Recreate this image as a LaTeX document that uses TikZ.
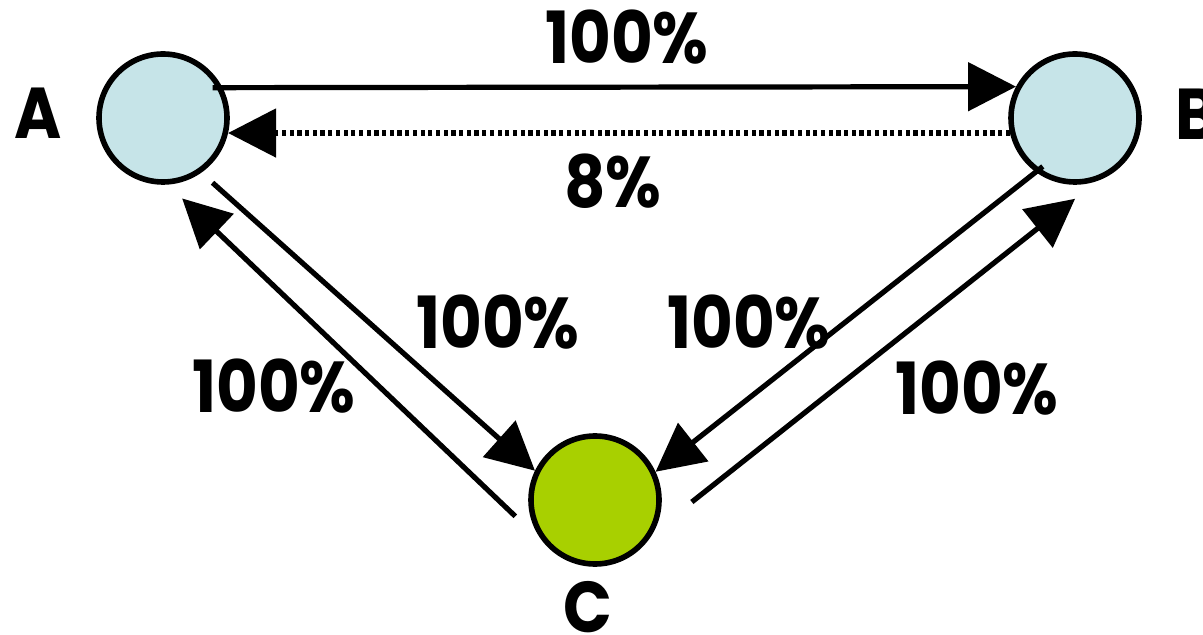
\documentclass[tikz,border=0pt]{standalone}
\usepackage{fontspec}
\setmainfont{Poppins}[FakeStretch=0.89]
\usetikzlibrary{arrows.meta}

\definecolor{stateblue}{HTML}{C6E4E8}
\definecolor{stategreen}{HTML}{A8D000}

\begin{document}
\begin{tikzpicture}[
  x=0.5pt, y=-0.5pt,
  state/.style={circle, draw, line width=2.8pt, minimum size=64pt, inner sep=0pt},
  flow/.style={line width=2.6pt, -{Triangle[length=24pt,width=24pt]}},
  back/.style={flow, dash pattern=on 2.1pt off 1.75pt},
  lab/.style={font=\fontsize{36}{40}\selectfont\bfseries, inner sep=0pt}
]
  \useasboundingbox (0,0) rectangle (1203,635);

  % the three states
  \node[state, fill=stateblue]  (a) at (163,118) {};
  \node[state, fill=stateblue]  (b) at (1075,118) {};
  \node[state, fill=stategreen] (c) at (595,500) {};

  \node[lab] (na) at (38,113)   {A};
  \node[lab] (nb) at (1197,114) {B};
  \node[lab] (nc) at (588,607)  {C};

  % transitions
  \draw[flow, shorten <=-5pt] (a.27.6) -- (b.152.4);
  \draw[back] (b.193.8) -- (a.-13.8);
  \draw[flow, shorten <=7.5pt] (a.-55) -- (c.154.5);
  \draw[flow, shorten <=23pt, shorten >=10pt] (c.226) -- (a.-86);
  \draw[flow, shorten <=-4.5pt] (b.234.4) -- (c.25);
  \draw[flow, shorten <=24.5pt, shorten >=14.5pt] (c.-29) -- (b.-70);

  % rates
  \node[lab] (lab) at (627,37)  {100\%};
  \node[lab] (lba) at (613,181) {8\%};
  \node[lab] (lac) at (498,322) {100\%};
  \node[lab] (lca) at (274,386) {100\%};
  \node[lab] (lbc) at (749,322) {100\%};
  \node[lab] (lcb) at (977,388) {100\%};
\end{tikzpicture}
\end{document}
